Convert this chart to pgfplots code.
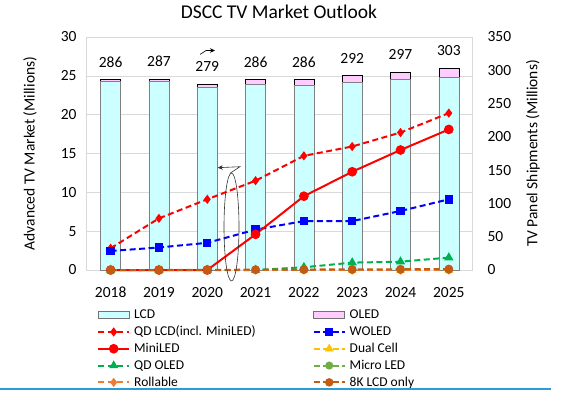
\documentclass[border=0pt]{standalone}
\usepackage{fontspec}
\setmainfont{Carlito}
\usepackage{pgfplots}
\pgfplotsset{compat=1.18}
\usetikzlibrary{arrows.meta}
\definecolor{lcdc}{HTML}{CCFFFF}
\definecolor{oledc}{HTML}{FFCCFF}
\definecolor{qdlcd}{HTML}{FF0000}
\definecolor{woled}{HTML}{0000FF}
\definecolor{dualc}{HTML}{FFC000}
\definecolor{qdoled}{HTML}{00B050}
\definecolor{microled}{HTML}{70AD47}
\definecolor{rollc}{HTML}{ED7D31}
\definecolor{eightk}{HTML}{C55A11}
\definecolor{gridc}{HTML}{D9D9D9}
\definecolor{slideblue}{HTML}{2E9BD6}
\begin{document}
\begin{tikzpicture}
\path[use as bounding box] (0pt,0pt) rectangle (565pt,392pt);
\pgfplotsset{
  common/.style={
    at={(86pt,122pt)}, anchor=south west, scale only axis,
    width=386pt, height=233pt, xmin=-0.51, xmax=7.48,
    major tick length=0pt,
    /pgf/number format/assume math mode=true,
    ticklabel style={font=\fontsize{15.5}{18}\selectfont},
    label style={font=\fontsize{15.5}{18}\selectfont},
  },
}
% ---------- Axis A: frame, grid, left ticks, title, legend
\begin{axis}[common,
  ymin=0, ymax=30, ytick={0,5,...,30},
  xtick={0,...,7}, xticklabels={2018,2019,2020,2021,2022,2023,2024,2025},
  xticklabel style={anchor=base, yshift=-27pt},
  yticklabel style={anchor=east, xshift=-6pt},
  ytick pos=left, xtick pos=bottom,
  ymajorgrids, grid style={gridc, line width=0.6pt},
  axis line style={gridc, line width=0.6pt},
  ylabel={Advanced TV Market (Millions)},
  ylabel style={at={(axis description cs:-0.145,0.5)}, anchor=center, rotate=0},
  title={DSCC TV Market Outlook},
  title style={font=\fontsize{19.5}{22}\selectfont, at={(axis description cs:0.5,1)}, anchor=base, yshift=12.7pt},
  legend columns=2,
  legend cell align=left,
  legend image code/.code={\draw[mark repeat=2,mark phase=2,#1] plot coordinates {(0pt,0pt) (15.5pt,0pt) (31pt,0pt)};},
  legend style={at={(axis description cs:0.0285,-0.164)}, anchor=north west,
    draw=none, fill=none, inner sep=0pt, row sep=3.3pt,
    font=\fontsize{13.5}{16}\selectfont,
    nodes={inner sep=0pt, text height=10.5pt, text depth=3pt},
    /tikz/column 1/.style={column sep=4pt},
    /tikz/column 2/.style={column sep=57pt},
    /tikz/column 3/.style={column sep=4pt}},
]
\addlegendimage{legend image code/.code={\draw[fill=lcdc,draw=black!55,line width=0.5pt] (0pt,-3.5pt) rectangle (31pt,3.5pt);}}
\addlegendentry{LCD}
\addlegendimage{legend image code/.code={\draw[fill=oledc,draw=black!55,line width=0.5pt] (0pt,-3.5pt) rectangle (31pt,3.5pt);}}
\addlegendentry{OLED}
\addlegendimage{qdlcd, line width=2pt, dash pattern=on 6pt off 3.5pt, mark=diamond*, mark size=3pt, mark options={solid}}
\addlegendentry{QD LCD(incl. MiniLED)}
\addlegendimage{woled, line width=2pt, dash pattern=on 6pt off 3.5pt, mark=square*, mark size=3pt, mark options={solid}}
\addlegendentry{WOLED}
\addlegendimage{qdlcd, line width=2pt, solid, mark=*, mark size=3.8pt}
\addlegendentry{MiniLED}
\addlegendimage{dualc, line width=2pt, dash pattern=on 6pt off 3.5pt, mark=triangle*, mark size=3.2pt, mark options={solid}}
\addlegendentry{Dual Cell}
\addlegendimage{qdoled, line width=2pt, dash pattern=on 6pt off 3.5pt, mark=triangle*, mark size=3.2pt, mark options={solid}}
\addlegendentry{QD OLED}
\addlegendimage{microled, line width=2pt, dash pattern=on 6pt off 3.5pt, mark=*, mark size=3pt, mark options={solid}}
\addlegendentry{Micro LED}
\addlegendimage{rollc, line width=2pt, dash pattern=on 6pt off 3.5pt, mark=diamond*, mark size=3pt, mark options={solid}}
\addlegendentry{Rollable}
\addlegendimage{eightk, line width=2pt, dash pattern=on 6pt off 3.5pt, mark=*, mark size=3.2pt, mark options={solid}}
\addlegendentry{8K LCD only}
\end{axis}
% ---------- Axis B: bars on right axis
\begin{axis}[common,
  ymin=0, ymax=350, ytick={0,50,...,350},
  axis y line*=right, axis x line=none,
  axis line style={gridc, line width=0.6pt},
  yticklabel style={anchor=west, xshift=12pt},
  ylabel={TV Panel Shipments (Millions)},
  ylabel style={at={(axis description cs:1.158,0.5)}, anchor=center},
  ybar stacked, bar width=20pt, clip=false,
]
\addplot[fill=lcdc, draw=black!50, line width=0.5pt] coordinates {(0,283) (1,284) (2,275) (3,279) (4,277) (5,282) (6,286.5) (7,289)};
\addplot[fill=oledc, draw=black, line width=0.5pt] coordinates {(0,3) (1,3) (2,4) (3,7) (4,9) (5,10) (6,10.5) (7,14)};
\node[font=\fontsize{15.5}{18}\selectfont, yshift=17.5pt] at (axis cs:0,286) {286};
\node[font=\fontsize{15.5}{18}\selectfont, yshift=17.5pt] at (axis cs:1,287) {287};
\node[font=\fontsize{15.5}{18}\selectfont, yshift=17.5pt] at (axis cs:2,279) {279};
\node[font=\fontsize{15.5}{18}\selectfont, yshift=17.5pt] at (axis cs:3,286) {286};
\node[font=\fontsize{15.5}{18}\selectfont, yshift=17.5pt] at (axis cs:4,286) {286};
\node[font=\fontsize{15.5}{18}\selectfont, yshift=17.5pt] at (axis cs:5,292) {292};
\node[font=\fontsize{15.5}{18}\selectfont, yshift=17.5pt] at (axis cs:6,297) {297};
\node[font=\fontsize{15.5}{18}\selectfont, yshift=17.5pt] at (axis cs:7,303) {303};
\end{axis}
% ---------- Axis C: lines on left scale
\begin{axis}[common, hide axis, clip=false, ymin=0, ymax=30,
  every axis plot/.append style={line width=2pt},
  dashed line/.style={dash pattern=on 6pt off 3.5pt},
]
\addplot[qdlcd, dashed line, mark=diamond*, mark size=3pt, mark options={solid}] coordinates {(0,2.8) (1,6.65) (2,9.1) (3,11.5) (4,14.7) (5,15.9) (6,17.7) (7,20.2)};
\addplot[woled, dashed line, mark=square*, mark size=3.2pt, mark options={solid}] coordinates {(0,2.45) (1,2.9) (2,3.5) (3,5.2) (4,6.3) (5,6.3) (6,7.6) (7,9.1)};
\addplot[qdlcd, solid, mark=*, mark size=3.8pt] coordinates {(0,0) (1,0) (2,0) (3,4.6) (4,9.5) (5,12.65) (6,15.45) (7,18.1)};
\addplot[dualc, dashed line, mark=triangle*, mark size=3.2pt, mark options={solid}] coordinates {(0,0) (1,0) (2,0) (3,0) (4,0) (5,0) (6,0) (7,0)};
\addplot[qdoled, dashed line, mark=triangle*, mark size=3.4pt, mark options={solid}] coordinates {(0,0) (1,0) (2,0) (3,0) (4,0.35) (5,0.95) (6,1.07) (7,1.6)};
\addplot[microled, dashed line, mark=*, mark size=3pt, mark options={solid}] coordinates {(0,0) (1,0) (2,0) (3,0) (4,0) (5,0) (6,0) (7,0)};
\addplot[rollc, dashed line, mark=diamond*, mark size=3pt, mark options={solid}] coordinates {(0,0) (1,0) (2,0) (3,0) (4,0) (5,0) (6,0) (7,0)};
\addplot[eightk, dashed line, mark=*, mark size=3.4pt, mark options={solid}] coordinates {(0,0) (1,0) (2,0.02) (3,0.04) (4,0.06) (5,0.08) (6,0.1) (7,0.12)};
\end{axis}
% ---------- annotations
\draw[black!80, line width=0.6pt] (231.5pt,165pt) ellipse [x radius=7.5pt, y radius=54pt];
\draw[black!80, line width=0.6pt, -{Stealth[length=5pt,width=4.5pt]}] (230pt,218.7pt) -- (240pt,225.3pt) -- (217.7pt,224.3pt);
\draw[black, line width=0.6pt, -{Stealth[length=5pt,width=4.5pt]}] (200pt,337.5pt) -- (206pt,341.5pt) -- (215pt,341.5pt);
\draw[slideblue, line width=1.2pt] (0pt,3pt) -- (551pt,3pt);
\end{tikzpicture}
\end{document}
